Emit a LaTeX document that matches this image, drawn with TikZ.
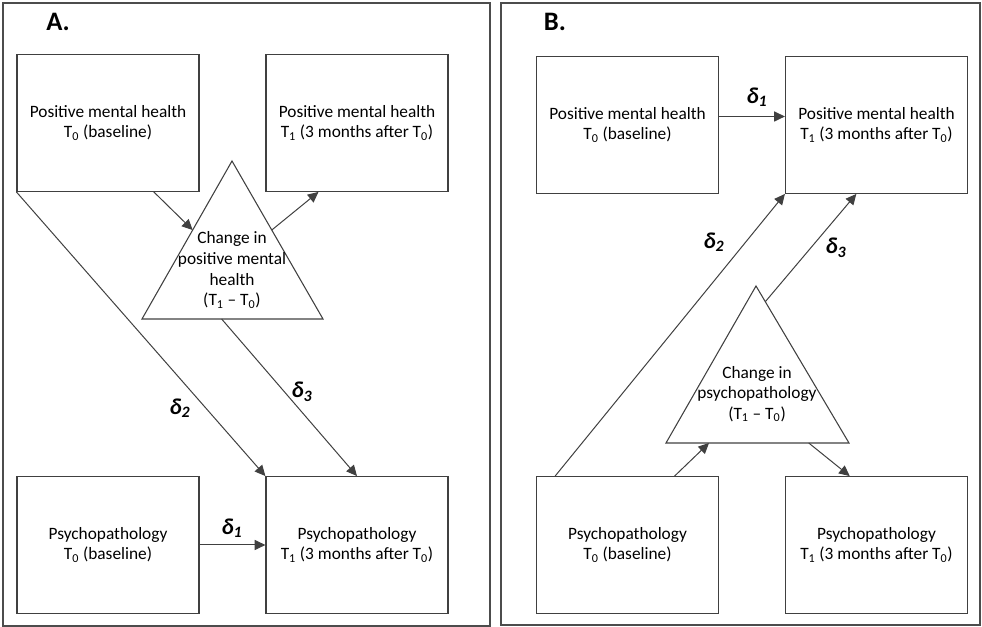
\documentclass[tikz,border=0pt]{standalone}
\usepackage{fontspec}
\setmainfont{Carlito}
\usetikzlibrary{arrows.meta,calc}

\begin{document}
\begin{tikzpicture}[x=0.75pt,y=0.75pt,
	box/.style={draw=black!75, line width=0.9pt, minimum width=136.5pt, minimum height=102.5pt, inner sep=0pt, align=center, font=\fontsize{13}{15}\selectfont},
	tri/.style={draw=black!75, line width=0.8pt},
	trilabel/.style={inner sep=0pt, align=center, font=\fontsize{13}{15.5}\selectfont},
	arr/.style={draw=black!75, line width=0.75pt, -{Triangle[length=8pt,width=7.5pt]}},
	delta/.style={inner sep=0pt, font=\fontsize{17}{20}\selectfont\bfseries\itshape},
	panel/.style={draw=black!70, line width=1.1pt},
	tag/.style={inner sep=0pt, font=\fontsize{20}{24}\selectfont\bfseries}]
	\useasboundingbox (0,0) rectangle (982,627);
	% panel A
	\begin{scope}
	\draw[panel] (3,1) rectangle (490,624);
	\node[tag] (tagA) at (58,605) {A.};
	\node[box] (pmhA0) at (108,504) {Positive mental health\\T\textsubscript{0} (baseline)};
	\node[box] (pmhA1) at (357,504) {Positive mental health\\T\textsubscript{1} (3 months after T\textsubscript{0})};
	\node[box] (psyA0) at (108,82) {Psychopathology\\T\textsubscript{0} (baseline)};
	\node[box] (psyA1) at (357,82) {Psychopathology\\T\textsubscript{1} (3 months after T\textsubscript{0})};
	\coordinate (triA-top) at (232,466);
	\coordinate (triA-left) at (142,308);
	\coordinate (triA-right) at (323,308);
	\draw[tri] (triA-top) -- (triA-left) -- (triA-right) -- cycle;
	\node[trilabel] (chgA) at (232,357) {Change in\\positive mental\\health\\(T\textsubscript{1} – T\textsubscript{0})};
	\draw[arr] ($(pmhA0.south west)!0.75!(pmhA0.south east)$) -- ($(triA-top)!0.437!(triA-left)$);
	\draw[arr] ($(triA-top)!0.437!(triA-right)$) -- ($(pmhA1.south west)!0.29!(pmhA1.south east)$);
	\draw[arr] (pmhA0.south west) -- (psyA1.north west);
	\draw[arr] ($(triA-left)!0.44!(triA-right)$) -- (psyA1.north);
	\draw[arr] (psyA0.east) -- (psyA1.west);
	\node[delta] (dA1) at (232,99) {δ\textsubscript{1}};
	\node[delta] (dA2) at (180,219) {δ\textsubscript{2}};
	\node[delta] (dA3) at (302,235) {δ\textsubscript{3}};
	\end{scope}
	% panel B
	\begin{scope}
	\draw[panel] (501,2) rectangle (980,624);
	\node[tag] (tagB) at (555,605) {B.};
	\node[box] (pmhB0) at (627.5,502) {Positive mental health\\T\textsubscript{0} (baseline)};
	\node[box] (pmhB1) at (876.5,502) {Positive mental health\\T\textsubscript{1} (3 months after T\textsubscript{0})};
	\node[box] (psyB0) at (627.5,82) {Psychopathology\\T\textsubscript{0} (baseline)};
	\node[box] (psyB1) at (876.5,82) {Psychopathology\\T\textsubscript{1} (3 months after T\textsubscript{0})};
	\coordinate (triB-top) at (756,341);
	\coordinate (triB-left) at (666,184);
	\coordinate (triB-right) at (849,184);
	\draw[tri] (triB-top) -- (triB-left) -- (triB-right) -- cycle;
	\node[trilabel] (chgB) at (757,233) {Change in\\psychopathology\\(T\textsubscript{1} – T\textsubscript{0})};
	\draw[arr] ($(pmhB0.east)+(0,8.5)$) -- ($(pmhB1.west)+(0,8.5)$);
	\draw[arr] ($(psyB0.north west)!0.105!(psyB0.north east)$) -- (pmhB1.south west);
	\draw[arr] ($(triB-top)!0.1!(triB-right)$) -- ($(pmhB1.south west)!0.39!(pmhB1.south east)$);
	\draw[arr] ($(psyB0.north west)!0.757!(psyB0.north east)$) -- ($(triB-left)!0.235!(triB-right)$);
	\draw[arr] ($(triB-left)!0.78!(triB-right)$) -- ($(psyB1.north west)!0.354!(psyB1.north east)$);
	\node[delta] (dB1) at (757,530) {δ\textsubscript{1}};
	\node[delta] (dB2) at (714,385) {δ\textsubscript{2}};
	\node[delta] (dB3) at (836,379) {δ\textsubscript{3}};
	\end{scope}
\end{tikzpicture}
\end{document}
